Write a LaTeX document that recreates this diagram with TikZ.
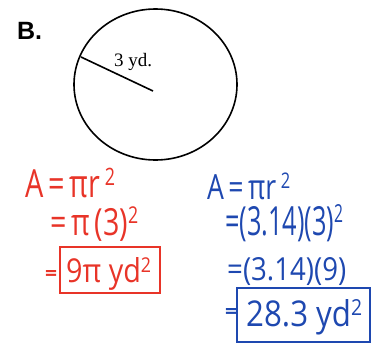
\documentclass[tikz,border=0pt]{standalone}
\usepackage{fontspec}
\usetikzlibrary{shapes.geometric}
\newfontfamily\hand{Open Sans}
\newfontfamily\timesf{Liberation Serif}
\newfontfamily\arialf{Liberation Sans}
\definecolor{inkred}{RGB}{232,52,40}
\definecolor{inkblue}{RGB}{30,72,176}
\newcommand{\fitline}[3]{\resizebox{#1}{#2}{#3}}
\newcommand{\sqr}{\raisebox{0.3em}{\scalebox{0.62}{2}}}
\begin{document}
\begin{tikzpicture}[x=1pt,y=-1pt,
  redtxt/.style={text=inkred,font=\hand\fontsize{30}{34}\selectfont,inner sep=0pt,anchor=base west},
  bluetxt/.style={text=inkblue,font=\hand\fontsize{30}{34}\selectfont,inner sep=0pt,anchor=base west},
  redeq/.style={text=inkred,font=\hand\bfseries\fontsize{24}{26}\selectfont,inner sep=0pt},
  blueeq/.style={text=inkblue,font=\hand\bfseries\fontsize{24}{26}\selectfont,inner sep=0pt},
  redbox/.style={draw=inkred,line width=2.6pt,inner sep=0pt},
  bluebox/.style={draw=inkblue,line width=2.3pt,inner sep=0pt}]
\useasboundingbox (0,0) rectangle (371,348);
% title
\node[font=\arialf\bfseries\fontsize{25}{28}\selectfont,inner sep=0pt] (title) at (29.5,30.5) {B.};
% circle
\node[draw,line width=1.6pt,ellipse,minimum width=163pt,minimum height=151pt,inner sep=0pt] (circ) at (155.5,84.5) {};
\coordinate (ctr) at (153,91);
\coordinate (rim) at (81,57);
\draw[line width=1.6pt] (rim) -- (ctr);
\node[font=\timesf\fontsize{19}{21}\selectfont,inner sep=0pt] (rlabel) at (133,62) {3 yd.};
% red work
\node[redtxt] (r1) at (25,197) {\fitline{90pt}{29pt}{A\,=\,πr\,\sqr}};
\node[redtxt] (r2) at (50,235) {\fitline{88pt}{28pt}{=\,π\,(3)\sqr}};
\node[redbox,minimum width=100pt,minimum height=46pt] (r3) at (110,270) {};
\node[redtxt] (r3t) at (66,282) {\fitline{85pt}{25pt}{9π yd\sqr}};
\node[redeq] (r3eq) at (51,275) {\fitline{12pt}{10pt}{=}};
% blue work
\node[bluetxt] (b1) at (207,199) {\fitline{83pt}{26pt}{A\,=\,πr\,\sqr}};
\node[bluetxt] (b2) at (225,235) {\fitline{118pt}{30pt}{=(3.14)(3)\sqr}};
\node[bluetxt] (b3) at (227,280) {\fitline{119pt}{23pt}{=(3.14)(9)}};
\node[bluebox,minimum width=133pt,minimum height=54pt] (b4) at (303.5,315) {};
\node[bluetxt] (b4t) at (246,326) {\fitline{116pt}{27pt}{28.3 yd\sqr}};
\node[blueeq] (b4eq) at (231,313) {\fitline{12pt}{10pt}{=}};
\end{tikzpicture}
\end{document}
